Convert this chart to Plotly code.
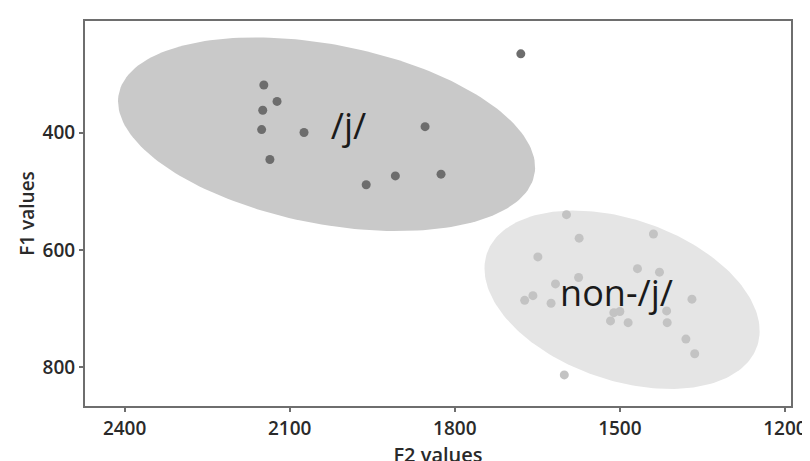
import numpy as np
import plotly.graph_objects as go

# /j/ tokens (F2, F1)
j_f2 = [2147, 2123, 2149, 2151, 2074, 2136, 1854, 1825, 1908, 1961, 1680]
j_f1 = [319, 347, 362, 395, 400, 446, 390, 471, 474, 489, 266]

# non-/j/ tokens
nj_f2 = [1597, 1574, 1439, 1649, 1468, 1428, 1575, 1617, 1658, 1673, 1625,
         1369, 1511, 1500, 1517, 1485, 1414, 1415, 1380, 1364, 1601]
nj_f1 = [540, 580, 573, 612, 632, 638, 647, 658, 678, 686, 691,
         684, 707, 705, 721, 724, 724, 704, 752, 777, 813]

# ellipse parameters: centre F2, centre F1, half-extent F2, half-extent F1, phase cos
ell_names = ["/j/", "non-/j/"]
ell_cx = [2033, 1496]
ell_cy = [403, 685]
ell_ax = [379, 250]
ell_ay = [165, 152]
ell_cos = [-0.34, -0.35]

label_f2 = [1993, 1506]
label_f1 = [395, 681]

x_ticks = [2400, 2100, 1800, 1500, 1200]
y_ticks = [400, 600, 800]

ell_fill = ["#c9c9c9", "#e5e5e5"]
pt_col = ["#6d6d6d", "#c3c3c3"]

fig = go.Figure()
t = np.linspace(0, 2 * np.pi, 200)
for i in range(2):
    phi = np.arccos(ell_cos[i])
    ex = ell_cx[i] + ell_ax[i] * np.cos(t)
    ey = ell_cy[i] + ell_ay[i] * np.cos(t - phi)
    fig.add_trace(go.Scatter(x=ex, y=ey, mode="lines", fill="toself",
                             fillcolor=ell_fill[i], line=dict(width=0),
                             hoverinfo="skip", showlegend=False))

fig.add_trace(go.Scatter(x=j_f2, y=j_f1, mode="markers",
                         marker=dict(size=9, color=pt_col[0]), showlegend=False))
fig.add_trace(go.Scatter(x=nj_f2, y=nj_f1, mode="markers",
                         marker=dict(size=9, color=pt_col[1]), showlegend=False))

fig.add_trace(go.Scatter(x=label_f2, y=label_f1, mode="text", text=ell_names,
                         textfont=dict(family="Open Sans", size=36, color="#1a1a1a"),
                         textposition="middle center", showlegend=False))

tfont = dict(family="Open Sans", size=19, color="#2a2a2a", weight=600)
axis_common = dict(showgrid=False, zeroline=False, showline=True, mirror=True,
                   linecolor="#6e6e6e", linewidth=2, ticks="outside", ticklen=4,
                   tickcolor="#6e6e6e", tickwidth=1.5, tickfont=tfont,
                   ticklabeloverflow="allow")

fig.update_layout(
    width=810, height=461,
    margin=dict(l=77, r=11, t=13, b=38),
    plot_bgcolor="white", paper_bgcolor="white",
    xaxis=dict(range=[2472, 1189], tickvals=x_ticks, ticktext=[str(v) for v in x_ticks],
               title=dict(text="F2 values", standoff=3,
                          font=dict(family="Open Sans", size=20, color="#2a2a2a", weight=600)),
               **axis_common),
    yaxis=dict(range=[866, 210], tickvals=y_ticks, ticktext=[str(v) for v in y_ticks],
               title=dict(text="F1 values", standoff=3,
                          font=dict(family="Open Sans", size=19, color="#2a2a2a", weight=600)),
               **axis_common),
)

fig.write_html("out.html")
